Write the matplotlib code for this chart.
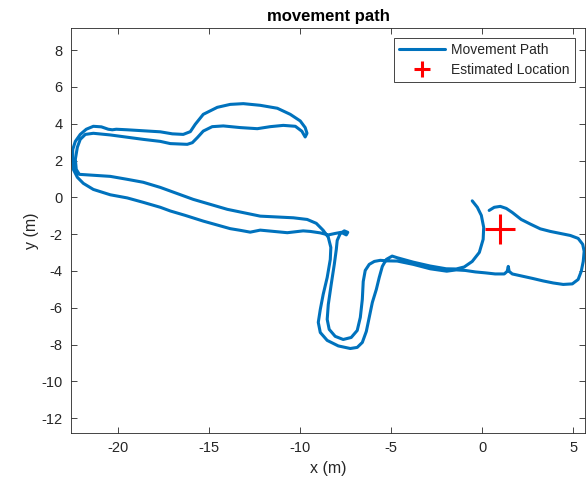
import matplotlib
matplotlib.use("Agg")
import matplotlib.pyplot as plt

plt.rcParams['font.family'] = ['Liberation Sans', 'DejaVu Sans']
plt.rcParams['axes.unicode_minus'] = False

# Movement path (x, y in metres), in drawing order
path_x = [0.38, 0.66, 0.99, 1.32, 1.65, 2.14, 2.64, 3.19, 3.74, 4.29, 4.84, 5.27, 5.52, 5.60, 5.55,
          5.44, 5.27, 4.95, 4.45, 3.90, 3.35, 2.75, 2.14, 1.65, 1.48, 1.43, 1.37, 1.21, 0.71, 0.16,
          -0.38, -0.93, -1.43, -1.95, -2.86, -3.79, -4.67, -5.22, -5.60, -5.93, -6.21, -6.43, -6.54,
          -6.59, -6.70, -6.87, -7.20, -7.64, -8.08, -8.41, -8.52, -8.46, -8.30, -8.13, -8.02, -7.97,
          -7.80, -7.58, -7.39, -7.47, -7.75, -8.08, -8.46, -8.90, -9.45, -9.84, -10.71, -11.65,
          -12.20, -12.75, -13.30, -13.85, -14.67, -15.33, -16.32, -17.14, -17.69, -18.63, -19.51,
          -20.44, -21.37, -21.92, -22.25, -22.47, -22.52, -22.50, -22.36, -22.09, -21.76, -21.37,
          -20.93, -20.55, -20.33, -20.11, -19.51, -18.52, -17.69, -17.03, -16.43, -16.04, -15.77,
          -15.33, -14.56, -13.85, -13.13, -12.20, -11.26, -10.55, -10.00, -9.73, -9.63, -9.73,
          -9.91, -10.27, -10.93, -11.65, -12.36, -13.30, -14.23, -14.84, -15.33, -15.66, -15.93,
          -16.21, -17.14, -17.69, -18.63, -20.44, -21.37, -21.81, -22.09, -22.25, -22.36, -22.31,
          -22.14, -21.37, -20.44, -19.51, -18.63, -17.69, -15.88, -14.01, -12.20, -10.38, -9.62,
          -9.12, -8.74, -8.46, -8.32, -8.35, -8.52, -8.74, -8.90, -9.01, -8.90, -8.52, -7.91,
          -7.25, -6.87, -6.59, -6.37, -6.21, -6.04, -5.82, -5.66, -5.49, -5.27, -4.95, -4.67,
          -3.79, -2.86, -1.98, -1.43, -0.99, -0.55, -0.16, 0.05, 0.08, -0.05, -0.27, -0.55]
path_y = [-0.71, -0.54, -0.49, -0.60, -0.82, -1.20, -1.45, -1.71, -1.85, -1.96, -2.07, -2.23, -2.55,
          -2.93, -3.48, -4.02, -4.46, -4.70, -4.73, -4.65, -4.54, -4.40, -4.27, -4.16, -4.02, -3.75,
          -4.02, -4.16, -4.16, -4.10, -4.05, -3.97, -3.94, -4.01, -3.88, -3.64, -3.46, -3.45, -3.42,
          -3.48, -3.64, -3.97, -4.57, -5.54, -6.52, -7.23, -7.61, -7.72, -7.55, -7.17, -6.63, -5.82,
          -4.73, -3.64, -2.83, -2.34, -1.96, -1.82, -1.90, -2.04, -1.90, -1.96, -2.04, -1.93, -1.85,
          -1.82, -1.92, -1.83, -1.78, -1.89, -1.79, -1.70, -1.47, -1.29, -0.98, -0.74, -0.54, -0.27,
          -0.03, 0.14, 0.43, 0.76, 1.09, 1.52, 2.07, 2.61, 3.04, 3.42, 3.70, 3.86, 3.83, 3.70, 3.67,
          3.70, 3.67, 3.61, 3.56, 3.45, 3.42, 3.57, 3.97, 4.51, 4.89, 5.05, 5.09, 5.00, 4.84, 4.51,
          4.15, 3.79, 3.48, 3.28, 3.59, 3.86, 3.91, 3.84, 3.73, 3.79, 3.88, 3.84, 3.60, 3.24, 2.97,
          2.88, 2.92, 3.04, 3.15, 3.39, 3.48, 3.42, 3.15, 2.72, 2.07, 1.52, 1.25, 1.20, 1.14, 0.98,
          0.82, 0.54, -0.11, -0.65, -1.02, -1.11, -1.20, -1.41, -1.79, -2.17, -2.72, -3.37, -4.35,
          -5.27, -6.09, -6.79, -7.34, -7.77, -8.07, -8.21, -8.15, -7.88, -7.28, -6.52, -5.71, -5.00,
          -4.35, -3.75, -3.37, -3.19, -3.28, -3.52, -3.73, -3.88, -3.89, -3.78, -3.48, -2.99, -2.28,
          -1.63, -0.98, -0.54, -0.19]

est_x = [0.99]
est_y = [-1.74]

x_ticks = [-20, -15, -10, -5, 0, 5]
y_ticks = [-12, -10, -8, -6, -4, -2, 0, 2, 4, 6, 8]

dark = '#262626'

fig = plt.figure(figsize=(5.88, 4.80), dpi=100)
ax = fig.add_axes([0.1207, 0.0979, 0.8743, 0.8438])

ax.plot(path_x, path_y, color='#0072BD', linewidth=2.2, solid_capstyle='round',
        solid_joinstyle='round', label='Movement Path')
ax.plot(est_x, est_y, linestyle='none', marker='+', color='#FF0000', markersize=22,
        markeredgewidth=2.2, label='Estimated Location')

ax.set_xlim(-22.6, 5.65)
ax.set_ylim(-12.8, 9.2)
ax.set_xticks(x_ticks)
ax.set_yticks(y_ticks)
ax.tick_params(direction='in', top=True, right=True, length=4, width=0.6,
               colors=dark, labelsize=10.5, labelcolor=dark, pad=6)
for s in ax.spines.values():
    s.set_color(dark)
    s.set_linewidth(0.6)

ax.set_xlabel('x (m)', fontsize=11.5, color=dark, labelpad=4)
ax.set_ylabel('y (m)', fontsize=11.5, color=dark, labelpad=2)
ax.set_title('movement path', fontsize=12, fontweight='bold', color='black', pad=5)

leg = ax.legend(loc='upper right', fontsize=10, frameon=True, fancybox=False,
                edgecolor=dark, framealpha=1, handlelength=3.3, borderpad=0.35,
                labelspacing=0.42, handletextpad=0.45, borderaxespad=0.75,
                markerscale=0.55)
leg.get_frame().set_linewidth(0.6)
for t in leg.get_texts():
    t.set_color(dark)

fig.savefig('out.png', dpi=100)
